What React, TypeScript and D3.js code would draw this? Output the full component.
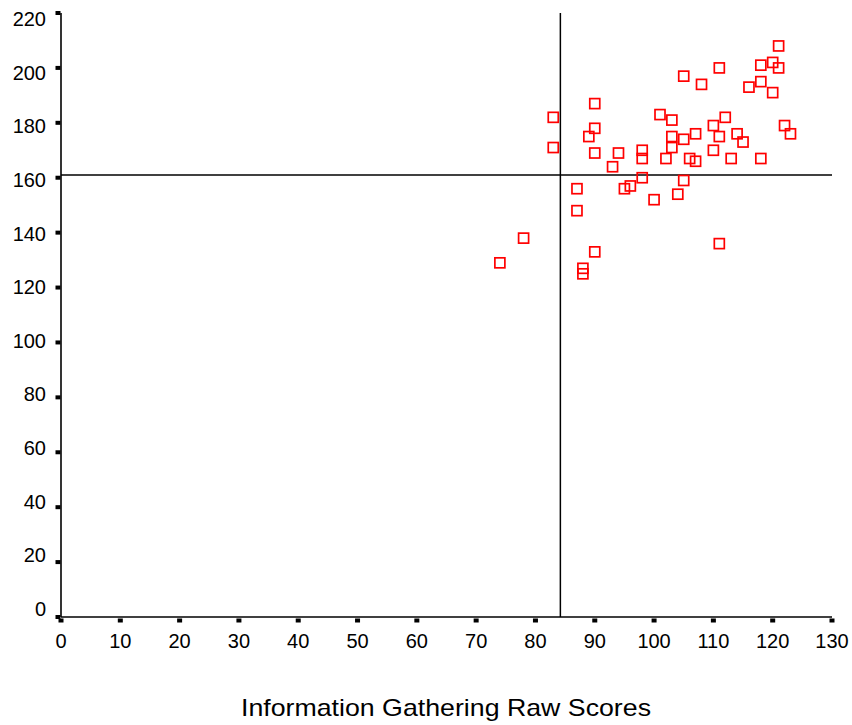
import React, { useEffect, useRef } from 'react';
import * as d3 from 'd3';

// raw scores (x = information gathering)
const infoGathering = [
  121, 118, 120, 121, 111, 105, 108, 116, 118, 120,
  90, 83, 101, 103, 112, 110, 122, 123, 90, 89,
  103, 105, 107, 111, 114, 115, 83, 103, 110, 90,
  94, 98, 98, 93, 102, 106, 107, 113, 118, 98,
  105, 87, 95, 96, 100, 104, 87, 111, 78, 74,
  90, 88, 88
];
const otherScores = [
  208, 201, 202, 200, 200, 197, 194, 193, 195, 191,
  187, 182, 183, 181, 182, 179, 179, 176, 178, 175,
  175, 174, 176, 175, 176, 173, 171, 171, 170, 169,
  169, 170, 167, 164, 167, 167, 166, 167, 167, 160,
  159, 156, 156, 157, 152, 154, 148, 136, 138, 129,
  133, 127, 125
];
const xTicks = [0, 10, 20, 30, 40, 50, 60, 70, 80, 90, 100, 110, 120, 130];
const yTicks = [0, 20, 40, 60, 80, 100, 120, 140, 160, 180, 200, 220];
// reference lines
const refX = 84.2;
const refY = 161;

const App = () => {
  const ref = useRef<SVGSVGElement>(null);

  useEffect(() => {
    const svg = d3.select(ref.current);
    svg.selectAll('*').remove();

    const x = d3.scaleLinear().domain([0, 130]).range([61, 832]);
    const y = d3.scaleLinear().domain([0, 220]).range([617, 13]);
    // SPSS draws the y labels slightly squeezed toward the middle
    const yLab = d3.scaleLinear().domain([0, 220]).range([609, 19]);

    const font = 'Liberation Sans, Arial, sans-serif';

    // reference lines
    svg.append('line')
      .attr('x1', x(refX)).attr('x2', x(refX))
      .attr('y1', y(220)).attr('y2', y(0))
      .attr('stroke', '#000').attr('stroke-width', 1.5);
    svg.append('line')
      .attr('x1', x(0)).attr('x2', x(130))
      .attr('y1', y(refY)).attr('y2', y(refY))
      .attr('stroke', '#000').attr('stroke-width', 1.5);

    // axes lines
    svg.append('line')
      .attr('x1', x(0)).attr('x2', x(0))
      .attr('y1', y(220)).attr('y2', y(0))
      .attr('stroke', '#000').attr('stroke-width', 1.6);
    svg.append('line')
      .attr('x1', x(0)).attr('x2', x(130))
      .attr('y1', y(0)).attr('y2', y(0))
      .attr('stroke', '#000').attr('stroke-width', 1.6);

    // tick marks are little filled blocks
    svg.selectAll('.xtick').data(xTicks).enter().append('rect')
      .attr('class', 'xtick')
      .attr('x', d => x(d) - 2.5).attr('y', y(0) + 1.5)
      .attr('width', 5).attr('height', 4)
      .attr('fill', '#000');
    svg.selectAll('.ytick').data(yTicks).enter().append('rect')
      .attr('class', 'ytick')
      .attr('x', x(0) - 5.5).attr('y', d => y(d) - 2)
      .attr('width', 5).attr('height', 4)
      .attr('fill', '#000');

    svg.selectAll('.xlab').data(xTicks).enter().append('text')
      .attr('class', 'xlab')
      .attr('x', d => x(d)).attr('y', 641)
      .attr('text-anchor', 'middle').attr('dominant-baseline', 'central')
      .attr('font-family', font).attr('font-size', 20)
      .text(d => d);
    svg.selectAll('.ylab').data(yTicks).enter().append('text')
      .attr('class', 'ylab')
      .attr('x', 46).attr('y', d => yLab(d))
      .attr('text-anchor', 'end').attr('dominant-baseline', 'central')
      .attr('font-family', font).attr('font-size', 20)
      .text(d => d);

    // points
    const pts = infoGathering.map((v, i) => ({ x: v, y: otherScores[i] }));
    svg.selectAll('.pt').data(pts).enter().append('rect')
      .attr('class', 'pt')
      .attr('x', d => x(d.x) - 5).attr('y', d => y(d.y) - 5)
      .attr('width', 10).attr('height', 10)
      .attr('fill', 'none').attr('stroke', '#ff0000').attr('stroke-width', 1.7);

    svg.append('text')
      .attr('x', 446).attr('y', 707)
      .attr('text-anchor', 'middle').attr('dominant-baseline', 'central')
      .attr('font-family', font).attr('font-size', 24)
      .attr('textLength', 410).attr('lengthAdjust', 'spacingAndGlyphs')
      .text('Information Gathering Raw Scores');
  }, []);

  return (
    <div style={{ position: 'absolute', left: 0, top: 0 }}>
      <svg ref={ref} width={852} height={725} style={{ display: 'block', background: '#fff' }} />
    </div>
  );
};

export default App;
